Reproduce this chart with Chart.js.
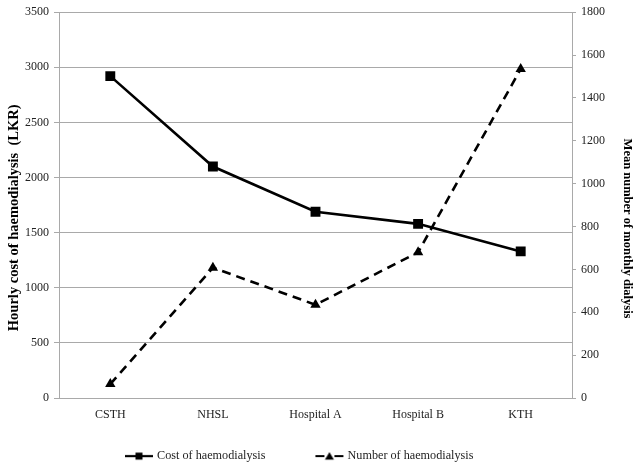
<!DOCTYPE html>
<html><head><meta charset="utf-8">
<script src="https://cdn.jsdelivr.net/npm/chart.js@4/dist/chart.umd.min.js"></script>
<style>html,body{margin:0;padding:0;background:#fff}#wrap{width:636px;height:471px}</style>
</head><body><div id="wrap"><canvas id="c" width="636" height="471"></canvas></div>
<script>
const categories = ['CSTH', 'NHSL', 'Hospital A', 'Hospital B', 'KTH'];
const costValues = [2920, 2100, 1690, 1580, 1330];
const dialysisCounts = [65, 608, 435, 680, 1535];
const seriesNames = ['Cost of haemodialysis', 'Number of haemodialysis'];
const leftTickRange = [0, 3500, 500];
const rightTickRange = [0, 1800, 200];
const leftTitle = 'Hourly cost of haemodialysis  (LKR)' + ' '.repeat(7);
const rightTitle = ' '.repeat(15) + 'Mean number of monthly dialysis';

const FONT = "'Liberation Serif', 'Times New Roman', serif";
const GRID = '#a9a9a9';
const TEXT = '#222';

function makeIcon(kind) {
  const c = document.createElement('canvas');
  c.width = 30; c.height = 12;
  const g = c.getContext('2d');
  g.strokeStyle = '#000'; g.fillStyle = '#000'; g.lineWidth = 2.2;
  if (kind === 'rect') {
    g.beginPath(); g.moveTo(1, 6); g.lineTo(29, 6); g.stroke();
    g.fillRect(11.5, 2.5, 7, 7);
  } else {
    g.beginPath(); g.moveTo(1, 6); g.lineTo(10, 6); g.moveTo(20, 6); g.lineTo(29, 6); g.stroke();
    g.beginPath(); g.moveTo(15, 2); g.lineTo(19.5, 9.5); g.lineTo(10.5, 9.5); g.closePath(); g.fill();
  }
  return c;
}
const legendIcons = [makeIcon('rect'), makeIcon('tri')];

const legendPlace = {
  id: 'legendPlace',
  afterLayout(chart) {
    const lg = chart.legend;
    if (!lg || !lg.lineWidths) return;
    const pad = lg.options.labels.padding;
    const startX = (lg.left + pad + lg.right - lg.lineWidths[0]) / 2;
    const dx = 127 - startX;
    lg.left += dx; lg.right += dx;
    lg.top = 400 - (pad - 50); lg.bottom = chart.height;
  }
};

const plainNumber = v => String(v);

new Chart(document.getElementById('c'), {
  type: 'line',
  data: {
    labels: categories,
    datasets: [
      {
        label: seriesNames[0], data: costValues, yAxisID: 'y',
        borderColor: '#000', backgroundColor: '#000', borderWidth: 2.6,
        pointStyle: 'rect', pointRadius: 7, pointBorderWidth: 0, tension: 0
      },
      {
        label: seriesNames[1], data: dialysisCounts, yAxisID: 'y1',
        borderColor: '#000', backgroundColor: '#000', borderWidth: 2.6, borderDash: [9, 6],
        pointStyle: 'triangle', pointRadius: 6, pointBorderWidth: 0, tension: 0
      }
    ]
  },
  options: {
    responsive: false, animation: false,
    layout: { padding: { top: 2, left: 0, right: 0, bottom: 0 } },
    plugins: {
      tooltip: { enabled: false },
      legend: {
        position: 'bottom', maxHeight: 20,
        labels: {
          font: { family: FONT, size: 12.2 }, color: TEXT,
          usePointStyle: true, pointStyleWidth: 24, padding: 52,
          generateLabels(chart) {
            const items = Chart.defaults.plugins.legend.labels.generateLabels(chart);
            items.forEach((it, i) => { it.pointStyle = legendIcons[i]; it.lineWidth = 0; });
            return items;
          }
        }
      }
    },
    scales: {
      x: {
        offset: true,
        grid: { display: false, drawTicks: false },
        border: { display: true, color: GRID, width: 1 },
        ticks: { font: { family: FONT, size: 12 }, color: TEXT, padding: 10, maxRotation: 0 },
        afterFit(s) { s.height = 53; }
      },
      y: {
        position: 'left', min: leftTickRange[0], max: leftTickRange[1],
        ticks: { stepSize: leftTickRange[2], callback: plainNumber, font: { family: FONT, size: 12 }, color: TEXT, padding: 5 },
        grid: { color: GRID, lineWidth: 1, drawTicks: true, tickLength: 5 },
        border: { display: true, color: GRID, width: 1 },
        title: { display: true, text: leftTitle, font: { family: FONT, size: 14.5, weight: 'bold' }, color: '#000', padding: { top: 6, bottom: 0 } },
        afterFit(s) { s.width = 59; }
      },
      y1: {
        position: 'right', min: rightTickRange[0], max: rightTickRange[1],
        ticks: { stepSize: rightTickRange[2], callback: plainNumber, font: { family: FONT, size: 12 }, color: TEXT, padding: 5 },
        grid: { drawOnChartArea: false, color: GRID, drawTicks: true, tickLength: 4 },
        border: { display: true, color: GRID, width: 1 },
        title: { display: true, text: rightTitle, font: { family: FONT, size: 12.5, weight: 'bold' }, color: '#000', padding: { top: 1, bottom: 0 } },
        afterFit(s) { s.width = 64; }
      }
    }
  },
  plugins: [legendPlace]
});
</script>
</body></html>
